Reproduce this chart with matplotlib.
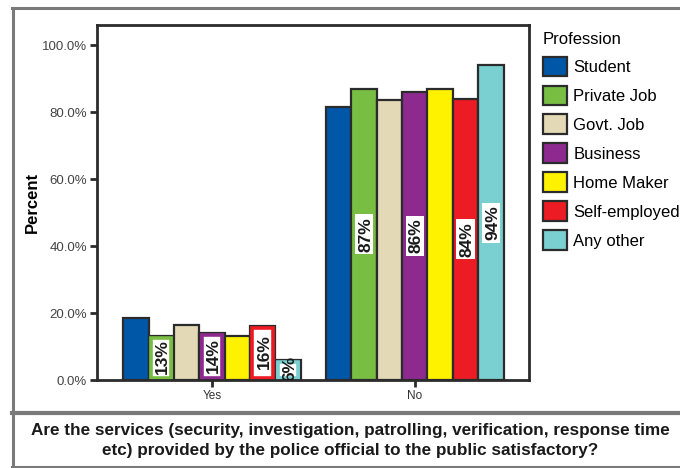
import matplotlib
matplotlib.use('Agg')
import matplotlib.pyplot as plt
from matplotlib.patches import Patch
from matplotlib.lines import Line2D
import numpy as np

# data
answers = ['Yes', 'No']
professions = ['Student', 'Private Job', 'Govt. Job', 'Business',
               'Home Maker', 'Self-employed', 'Any other']
yes_vals = [18.5, 13, 16.5, 14, 13, 16, 6]
no_vals = [81.5, 87, 83.5, 86, 87, 84, 94]
yes_labels = [None, '13%', None, '14%', None, '16%', '6%']
no_labels = [None, '87%', None, '86%', None, '84%', '94%']
colors = ['#0057A8', '#77BE43', '#E3D9B6', '#8E2A8F',
          '#FFF200', '#ED1C24', '#7ACFD0']
yticks = [0, 20, 40, 60, 80, 100]

plt.rcParams['font.family'] = ['Liberation Sans', 'DejaVu Sans']

fig = plt.figure(figsize=(6.8, 4.68), dpi=100)
ax = fig.add_axes([0.1426, 0.188, 0.635, 0.7585])

x = np.arange(len(answers))
w = 0.125
# pixel -> data helpers (axes is ~432 px wide over 2.129 units, ~356 px high over 106 %)
px_x = 2.129 / 432.0
px_y = 106.0 / 356.0
tx = 1.6 * px_x   # nudge rotated text to sit centred (descent is on the right)

for i in range(len(professions)):
    vals = [yes_vals[i], no_vals[i]]
    pos = x + (i - 3) * w
    ax.bar(pos, vals, w, color=colors[i], edgecolor='#2b2b2b', linewidth=1.6,
           label=professions[i], zorder=2)
    # Yes group: labelled bars are white with a coloured inner border
    if yes_labels[i] is not None:
        ax.bar(pos[0], vals[0] - 4 * px_y, w - 5 * px_x, bottom=2 * px_y,
               color='white', edgecolor=colors[i], linewidth=2.6, zorder=2.5)
        ax.text(pos[0] + tx, vals[0] / 2 + 0.4, yes_labels[i], rotation=90,
                ha='center', va='center', fontsize=12.5, fontweight='bold',
                color='#1a1a1a', zorder=3, clip_on=True)
    # No group: white box in the middle of the bar
    if no_labels[i] is not None:
        bh = 40 * px_y
        ax.bar(pos[1], bh, w - 7 * px_x, bottom=vals[1] / 2 - bh / 2,
               color='white', linewidth=0, zorder=2.5)
        ax.text(pos[1] + tx, vals[1] / 2, no_labels[i], rotation=90,
                ha='center', va='center', fontsize=12.5, fontweight='bold',
                color='#1a1a1a', zorder=3)

ax.set_xlim(-0.567, 1.562)
ax.set_ylim(0, 106)
ax.set_xticks(x)
ax.set_xticklabels(answers, fontsize=8.5, color='#333333')
ax.set_yticks(yticks)
ax.set_yticklabels(['%.1f%%' % t for t in yticks], fontsize=9.5, color='#444444')
ax.tick_params(axis='both', direction='out', length=5, width=2, color='#2b2b2b', pad=2)
for s in ax.spines.values():
    s.set_linewidth(2)
    s.set_color('#2b2b2b')
ax.set_ylabel('Percent', fontsize=12, fontweight='bold')
ax.yaxis.set_label_coords(-0.132, 0.5)

handles = [Patch(facecolor=c, edgecolor='#2b2b2b', linewidth=1.6) for c in colors]
leg = fig.legend(handles, professions, title='Profession', loc='upper left',
                 bbox_to_anchor=(0.788, 0.945), frameon=False, fontsize=12,
                 title_fontsize=12, handlelength=1.45, handleheight=1.45,
                 labelspacing=0.55, handletextpad=0.4, borderaxespad=0)
leg._legend_box.align = 'left'

# frame lines
H = 468.0
W = 680.0
def line(x0, x1, y0, y1, lw, c):
    fig.add_artist(Line2D([x0 / W, x1 / W], [1 - y0 / H, 1 - y1 / H],
                          color=c, linewidth=lw, transform=fig.transFigure))
line(12.5, 12.5, 8, 467, 2.2, '#7a7a7a')
line(12, 680, 8, 8, 2.2, '#7a7a7a')
line(12, 680, 413, 413, 3, '#7a7a7a')
line(12, 680, 467, 467, 1.5, '#7a7a7a')

fig.text(350 / W, 1 - 440.5 / H,
         'Are the services (security, investigation, patrolling, verification, response time\n'
         'etc) provided by the police official to the public satisfactory?',
         ha='center', va='center', fontsize=12.3, fontweight='bold',
         color='#1a1a1a', linespacing=1.4)

fig.savefig('out.png', dpi=100)
